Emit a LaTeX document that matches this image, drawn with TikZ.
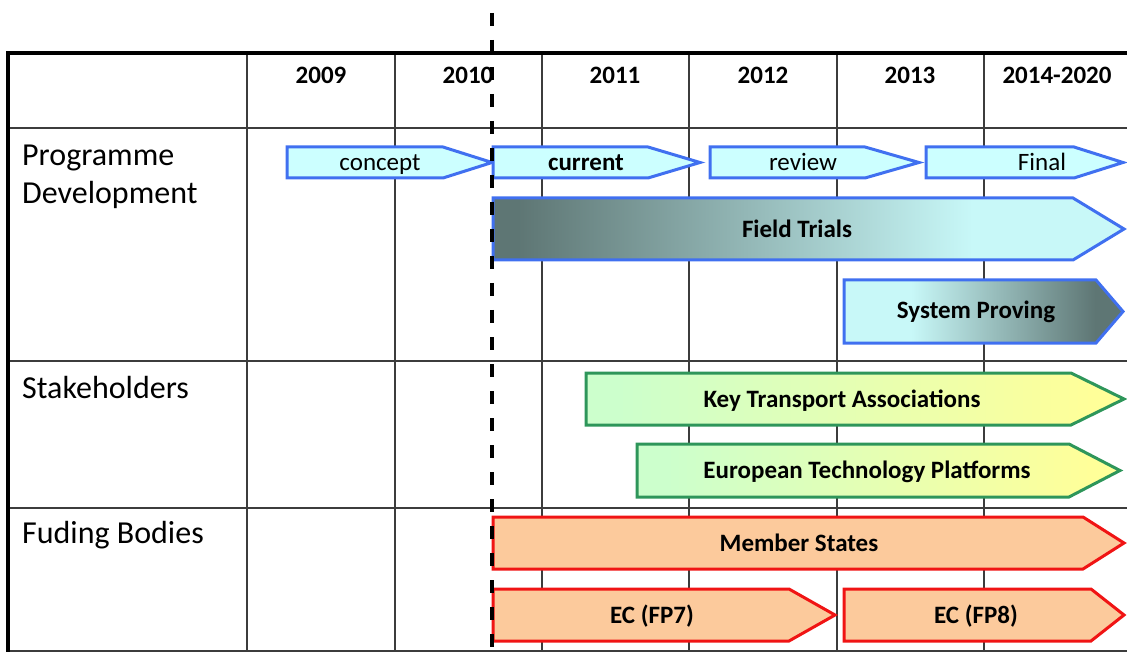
\documentclass[tikz,border=0pt]{standalone}
\usepackage{fontspec}
\setmainfont{Carlito}
\usetikzlibrary{calc}
\definecolor{bluebd}{RGB}{64,112,240}
\definecolor{bluefill}{RGB}{204,255,255}
\definecolor{ftdark}{RGB}{94,118,116}
\definecolor{ftlight}{RGB}{200,248,248}
\definecolor{greenbd}{RGB}{46,150,90}
\definecolor{greenfill}{RGB}{204,255,204}
\definecolor{yellowfill}{RGB}{255,255,153}
\definecolor{redbd}{RGB}{240,20,20}
\definecolor{peach}{RGB}{252,202,156}
\definecolor{gridc}{RGB}{60,60,60}
\pgfdeclarehorizontalshading{ftshade}{100bp}{color(0bp)=(ftdark); color(27bp)=(ftdark); color(63bp)=(ftlight); color(100bp)=(ftlight)}
\pgfdeclarehorizontalshading{spshade}{100bp}{color(0bp)=(ftlight); color(37bp)=(ftlight); color(70bp)=(ftdark); color(100bp)=(ftdark)}
\pgfdeclarehorizontalshading{grshade}{100bp}{color(0bp)=(greenfill); color(28bp)=(greenfill); color(72bp)=(yellowfill); color(100bp)=(yellowfill)}
\newcommand{\chev}[6]{\path[#1] (#2,#3) -- (#5,#3) -- (#6,{(#3+#4)/2}) -- (#5,#4) -- (#2,#4) -- cycle;}
\tikzset{
  grid line/.style={draw=gridc, line width=1.4pt},
  border/.style={draw=black, line width=4pt},
  bluebox/.style={draw=bluebd, line width=3pt, fill=bluefill},
  ftbox/.style={draw=bluebd, line width=3pt, shading=ftshade},
  spbox/.style={draw=bluebd, line width=3pt, shading=spshade},
  grbox/.style={draw=greenbd, line width=3pt, shading=grshade},
  redbox/.style={draw=redbd, line width=3pt, fill=peach},
  rowlabel/.style={anchor=base west, inner sep=0pt, font=\fontsize{32}{32}\selectfont},
  yearlabel/.style={anchor=base, inner sep=0pt, font=\bfseries\fontsize{25}{25}\selectfont},
  barlabel/.style={anchor=base, inner sep=0pt, font=\fontsize{25}{25}\selectfont},
  boldbar/.style={anchor=base, inner sep=0pt, font=\bfseries\fontsize{25}{25}\selectfont},
  todayline/.style={draw=black, line width=3.5pt, dash pattern=on 13pt off 14pt},
}
\begin{document}
\begin{tikzpicture}[x=1pt,y=-1pt]
\useasboundingbox (0,0) rectangle (1127,652);
% grid
\foreach \xx in {247,395,542,689,837,984} \draw[grid line] (\xx,53) -- (\xx,652);
\foreach \yy in {128,361,508,651} \draw[grid line] (8,\yy) -- (1127,\yy);
\draw[border] (8,652) -- (8,53) -- (1127,53);
% header
\node[yearlabel] (y2009) at (321,84) {2009};
\node[yearlabel] (y2010) at (468,84) {2010};
\node[yearlabel] (y2011) at (615,84) {2011};
\node[yearlabel] (y2012) at (763,84) {2012};
\node[yearlabel] (y2013) at (910,84) {2013};
\node[yearlabel] (y2014) at (1057,84) {2014-2020};
% row labels
\node[rowlabel] (prog1) at (22,166) {Programme};
\node[rowlabel] (prog2) at (22,204) {Development};
\node[rowlabel] (stake) at (22,398) {Stakeholders};
\node[rowlabel] (fund) at (22,543) {Fuding Bodies};
% programme bars
\chev{bluebox}{287}{147}{178}{443}{492}
\chev{bluebox}{493}{147}{178}{648}{700}
\chev{bluebox}{710}{147}{178}{865}{919}
\chev{bluebox}{926}{147}{178}{1074}{1123}
\node[barlabel] (concept) at (380,171) {concept};
\node[boldbar] (current) at (586,171) {current};
\node[barlabel] (review) at (803,171) {review};
\node[barlabel] (final) at (1042,171) {Final};
\chev{ftbox}{493}{198}{260}{1073}{1124}
\node[boldbar] (field) at (797,238) {Field Trials};
\chev{spbox}{844}{280}{343}{1096}{1123}
\node[boldbar] (proving) at (976,319) {System Proving};
% stakeholders
\chev{grbox}{586}{373}{425}{1071}{1124}
\node[boldbar] (kta) at (842,407) {Key Transport Associations};
\chev{grbox}{637}{444}{497}{1069}{1120}
\node[boldbar] (etp) at (867,478) {European Technology Platforms};
% funding
\chev{redbox}{493}{517}{569}{1083}{1124}
\node[boldbar] (member) at (799,551) {Member States};
\chev{redbox}{493}{589}{641}{789}{835}
\node[boldbar] (fp7) at (652,623) {EC (FP7)};
\chev{redbox}{844}{589}{641}{1091}{1124}
\node[boldbar] (fp8) at (976,623) {EC (FP8)};
% today line
\coordinate (ttop) at (492,13);
\coordinate (tbot) at (492,652);
\draw[todayline] (ttop) -- (tbot);
\end{tikzpicture}
\end{document}
